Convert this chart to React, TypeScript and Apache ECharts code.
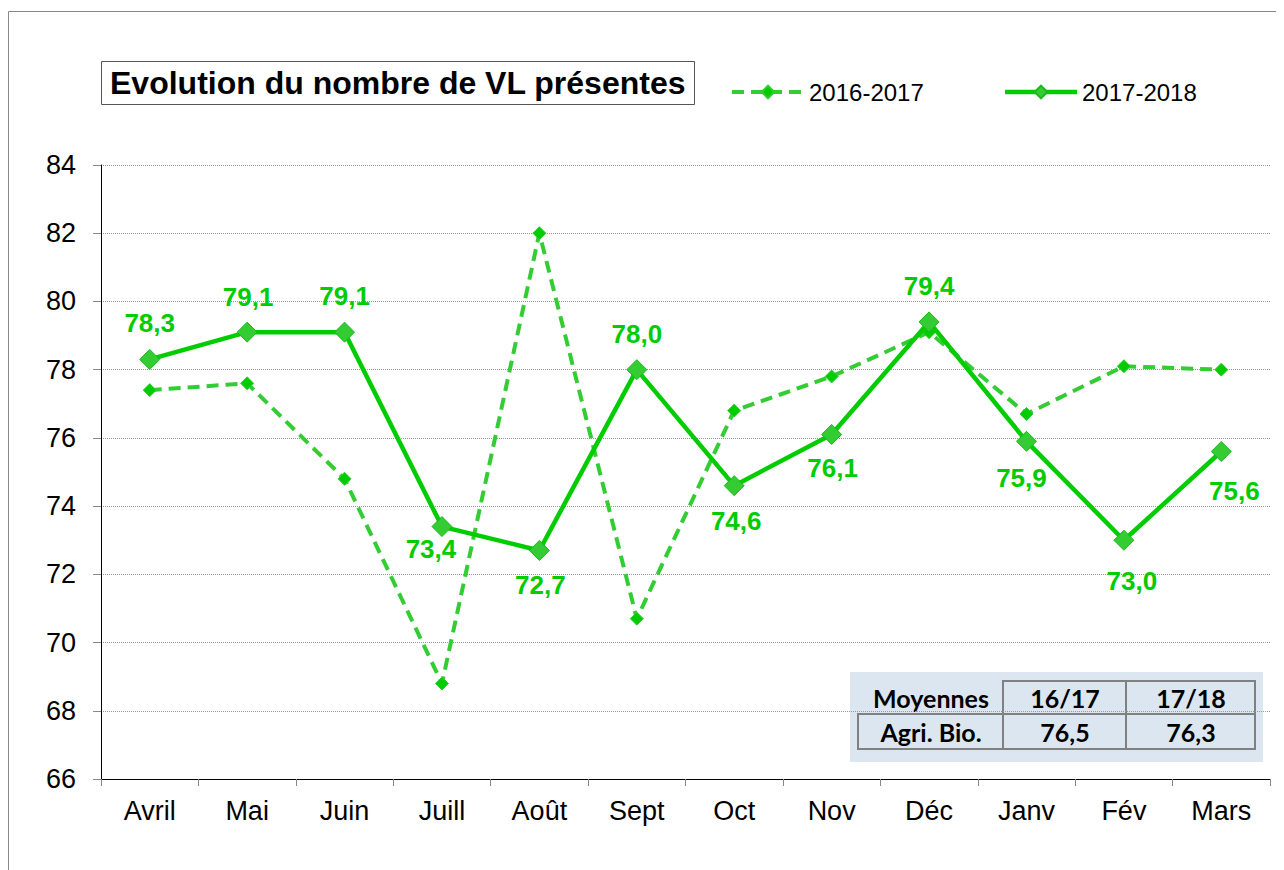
import React, { useEffect, useRef } from "react";
import * as echarts from "echarts";

const months = ["Avril", "Mai", "Juin", "Juill", "Août", "Sept", "Oct", "Nov", "Déc", "Janv", "Fév", "Mars"];
const vl1617 = [77.4, 77.6, 74.8, 68.8, 82.0, 70.7, 76.8, 77.8, 79.1, 76.7, 78.1, 78.0];
const vl1718 = [78.3, 79.1, 79.1, 73.4, 72.7, 78.0, 74.6, 76.1, 79.4, 75.9, 73.0, 75.6];
const seriesNames = ["2016-2017", "2017-2018"];
const yMin = 66;
const yMax = 84;
const yStep = 2;
const tableHeader = ["Moyennes", "16/17", "17/18"];
const tableRow = ["Agri. Bio.", "76,5", "76,3"];
const chartTitle = "Evolution du nombre de VL présentes";

// label placement (style): offset of label centre from point
const labelOffsets: [number, number][] = [
  [0, -36], [1, -35], [0, -36], [-11, 22], [1, 35], [0, -36],
  [2, 35], [1, 34], [0, -36], [-5, 37], [8, 41], [13, 39],
];

const fmt = (v: number) => v.toFixed(1).replace(".", ",");

export default function App() {
  const ref = useRef<HTMLDivElement>(null);
  useEffect(() => {
    if (!ref.current) return;
    const chart = echarts.init(ref.current, undefined, { renderer: "svg" });
    const font = "'Liberation Sans', Arial, sans-serif";
    const tFont = "Lato, 'Open Sans', sans-serif";

    const colX = [850, 995, 1118, 1247];
    const rowY = [673, 706, 741];
    const tableEls: any[] = [
      { type: "rect", shape: { x: 842, y: 664, width: 413, height: 90 }, style: { fill: "#dce6f1" } },
    ];
    for (let c = 1; c < 3; c++) {
      tableEls.push({
        type: "rect",
        shape: { x: colX[c], y: rowY[0], width: colX[c + 1] - colX[c], height: rowY[1] - rowY[0] },
        style: { fill: "none", stroke: "#808080", lineWidth: 2 },
      });
    }
    for (let c = 0; c < 3; c++) {
      tableEls.push({
        type: "rect",
        shape: { x: colX[c], y: rowY[1], width: colX[c + 1] - colX[c], height: rowY[2] - rowY[1] },
        style: { fill: "none", stroke: "#808080", lineWidth: 2 },
      });
    }
    const headCx = [923, 1057, 1183];
    tableHeader.forEach((t, i) => {
      tableEls.push({
        type: "text",
        x: headCx[i],
        y: (rowY[0] + rowY[1]) / 2,
        style: { text: t, font: `bold 25px ${tFont}`, fill: "#000", align: "center", verticalAlign: "middle" },
      });
    });
    tableRow.forEach((t, i) => {
      tableEls.push({
        type: "text",
        x: headCx[i],
        y: (rowY[1] + rowY[2]) / 2,
        style: { text: t, font: `bold 25px ${tFont}`, fill: "#000", align: "center", verticalAlign: "middle" },
      });
    });

    chart.setOption({
      animation: false,
      backgroundColor: "#fff",
      title: {
        text: chartTitle,
        left: 93,
        top: 53,
        borderColor: "#555",
        borderWidth: 1,
        padding: [5, 9],
        textStyle: { fontFamily: font, fontSize: 32, fontWeight: "bold", color: "#000", lineHeight: 34 },
      },
      legend: {
        left: 722,
        top: 72,
        padding: 0,
        itemWidth: 72,
        itemHeight: 16,
        itemGap: 79,
        textStyle: { fontFamily: font, fontSize: 24, color: "#000" },
        data: [
          { name: seriesNames[0], lineStyle: { width: 4, color: "#33cc33", type: [12, 7] } },
          { name: seriesNames[1], lineStyle: { width: 4.5, color: "#00cc00" } },
        ],
      },
      grid: { left: 93, top: 157, width: 1169, height: 614, containLabel: false },
      xAxis: {
        type: "category",
        data: months,
        boundaryGap: true,
        axisLine: { show: true, lineStyle: { color: "#000", width: 1 } },
        axisTick: { show: true, length: 7, lineStyle: { color: "#888" } },
        axisLabel: { fontFamily: font, fontSize: 27, color: "#000", margin: 18 },
      },
      yAxis: {
        type: "value",
        min: yMin,
        max: yMax,
        interval: yStep,
        axisLine: { show: true, lineStyle: { color: "#000", width: 1 } },
        axisTick: { show: true, length: 8, lineStyle: { color: "#888" } },
        axisLabel: { fontFamily: font, fontSize: 27, color: "#000", margin: 25 },
        splitLine: { show: true, lineStyle: { color: "#999", type: "dotted", width: 1 } },
      },
      series: [
        {
          name: seriesNames[0],
          type: "line",
          data: vl1617,
          z: 2,
          symbol: "diamond",
          symbolSize: 13,
          lineStyle: { color: "#33cc33", width: 4, type: [12, 7] },
          itemStyle: { color: "#00cc00", borderColor: "#33cc33", borderWidth: 1 },
        },
        {
          name: seriesNames[1],
          type: "line",
          data: vl1718.map((v, i) => ({
            value: v,
            label: { offset: labelOffsets[i] },
          })),
          z: 3,
          symbol: "diamond",
          symbolSize: 20,
          lineStyle: { color: "#00cc00", width: 4.5 },
          itemStyle: { color: "#33cc33", borderColor: "#1db81d", borderWidth: 1 },
          label: {
            show: true,
            position: "inside",
            formatter: (p: any) => fmt(p.value),
            fontFamily: font,
            fontSize: 26,
            fontWeight: "bold",
            color: "#00cc00",
          },
        },
      ],
      graphic: [
        {
          type: "rect",
          shape: { x: 0.5, y: 3.5, width: 1400, height: 1000 },
          style: { fill: "none", stroke: "#888", lineWidth: 1 },
          silent: true,
        },
        ...tableEls,
      ],
    });
    return () => chart.dispose();
  }, []);
  return <div ref={ref} style={{ width: 1276, height: 862 }} />;
}
